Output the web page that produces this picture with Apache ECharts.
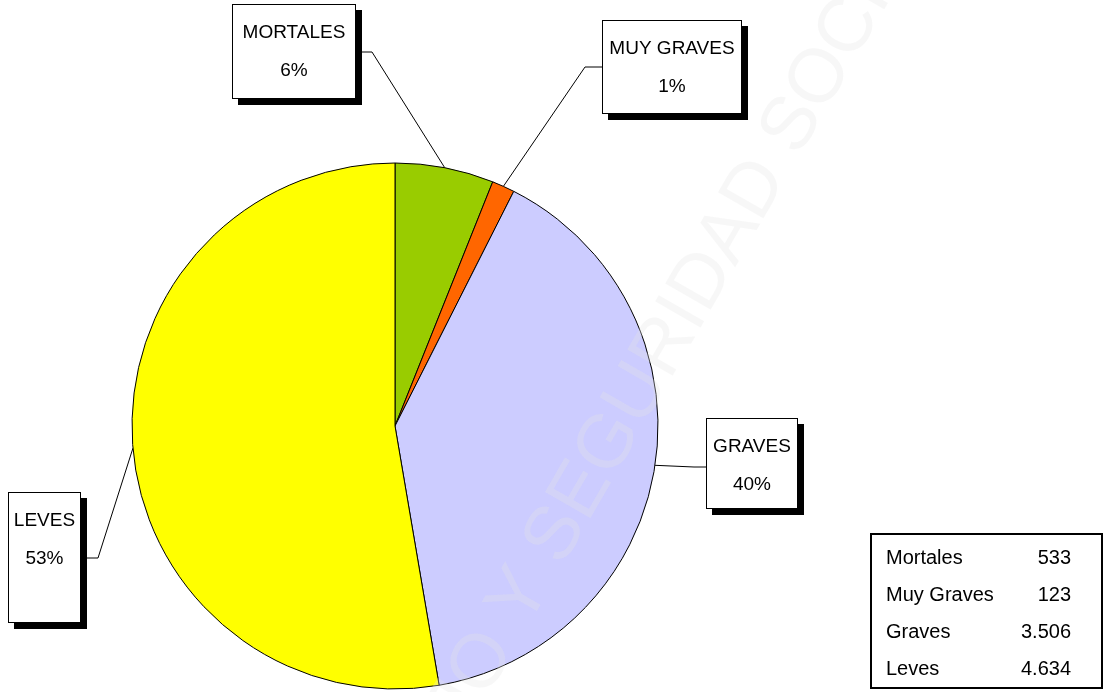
<!DOCTYPE html>
<html>
<head>
<meta charset="utf-8">
<script src="https://cdn.jsdelivr.net/npm/echarts@6/dist/echarts.min.js"></script>
<style>
  html, body { margin: 0; padding: 0; background: #fff; }
  #chart { width: 1108px; height: 692px; }
</style>
</head>
<body>
<div id="chart"></div>
<script>
// Accidentes según gravedad
const categories = ['Mortales', 'Muy Graves', 'Graves', 'Leves'];
const values = [533, 123, 3506, 4634];
const colors = ['#99CC00', '#FF6600', '#CCCCFF', '#FFFF00'];

// Callout boxes: box geometry, which side the leader enters, leader height and elbow x
const boxes = [
  { left: 233, top: 5,   width: 122, height: 93,  side: 'right', lineY: 52,  elbowX: 372 },
  { left: 603, top: 21,  width: 138, height: 92,  side: 'left',  lineY: 67,  elbowX: 585 },
  { left: 707, top: 419, width: 90,  height: 89,  side: 'left',  lineY: 467, elbowX: 694 },
  { left: 9,   top: 493, width: 71,  height: 129, side: 'right', lineY: 558, elbowX: 98 }
];

const FONT = '"Liberation Sans", Arial, sans-serif';
const LINE_H = 38;
const PAD_TOP = 9;
const ROW_H = 37;

function fmtNumber(v) {
  return String(v).replace(/\B(?=(\d{3})+(?!\d))/g, '.');
}

const chart = echarts.init(document.getElementById('chart'), null, { renderer: 'canvas' });

chart.setOption({
  backgroundColor: '#fff',
  animation: false,
  graphic: [{
    type: 'text',
    x: 322,
    y: 941,
    rotation: Math.PI / 3,
    z: 100,
    silent: true,
    style: {
      text: 'TRABAJO Y SEGURIDAD SOCIAL',
      font: '76px "Liberation Sans", Arial, sans-serif',
      fill: 'rgba(230,230,230,0.3)',
      align: 'left',
      verticalAlign: 'middle',
      textAlign: 'left',
      textVerticalAlign: 'middle'
    }
  }],
  legend: {
    orient: 'vertical',
    left: 871,
    top: 534,
    padding: [6, 31, 0, 10],
    itemGap: 0,
    itemWidth: 0,
    itemHeight: ROW_H,
    icon: 'none',
    selectedMode: false,
    borderColor: '#000',
    borderWidth: 2,
    backgroundColor: '#fff',
    data: categories,
    formatter: function (name) {
      const v = values[categories.indexOf(name)];
      return '{n|' + name + '}{v|' + fmtNumber(v) + '}';
    },
    textStyle: {
      color: '#000',
      fontFamily: FONT,
      fontSize: 20,
      lineHeight: ROW_H,
      rich: {
        n: { width: 112, height: ROW_H, lineHeight: ROW_H, fontSize: 20, fontFamily: FONT, color: '#000' },
        v: { width: 73, height: ROW_H, align: 'right', lineHeight: ROW_H, fontSize: 20, fontFamily: FONT, color: '#000' }
      }
    }
  },
  series: [{
    type: 'pie',
    center: [395, 426],
    radius: 263,
    startAngle: 90,
    clockwise: true,
    avoidLabelOverlap: false,
    emphasis: { disabled: true },
    itemStyle: { borderColor: '#000', borderWidth: 1 },
    data: categories.map(function (name, i) {
      return {
        name: name,
        value: values[i],
        itemStyle: { color: colors[i] },
        label: {
          width: boxes[i].width,
          padding: [PAD_TOP, 0, boxes[i].height - PAD_TOP - 2 * LINE_H, 0]
        }
      };
    }),
    label: {
      show: true,
      position: 'outside',
      formatter: function (p) {
        return p.name.toUpperCase() + '\n' + Math.round(p.percent) + '%';
      },
      color: '#000',
      fontFamily: FONT,
      fontSize: 19,
      lineHeight: LINE_H,
      align: 'center',
      backgroundColor: '#fff',
      borderColor: '#000',
      borderWidth: 1,
      shadowColor: '#000',
      shadowBlur: 0,
      shadowOffsetX: 6,
      shadowOffsetY: 6
    },
    labelLine: {
      show: true,
      length: 20,
      length2: 20,
      smooth: false,
      lineStyle: { color: '#000', width: 1 }
    },
    labelLayout: function (p) {
      const b = boxes[p.dataIndex];
      const edge = p.labelLinePoints[0];
      const attachX = b.side === 'right' ? b.left + b.width : b.left;
      return {
        x: b.left + b.width / 2,
        y: b.top,
        align: 'center',
        verticalAlign: 'top',
        labelLinePoints: [
          [edge[0], edge[1]],
          [b.elbowX, b.lineY],
          [attachX, b.lineY]
        ]
      };
    }
  }]
});
</script>
</body>
</html>
